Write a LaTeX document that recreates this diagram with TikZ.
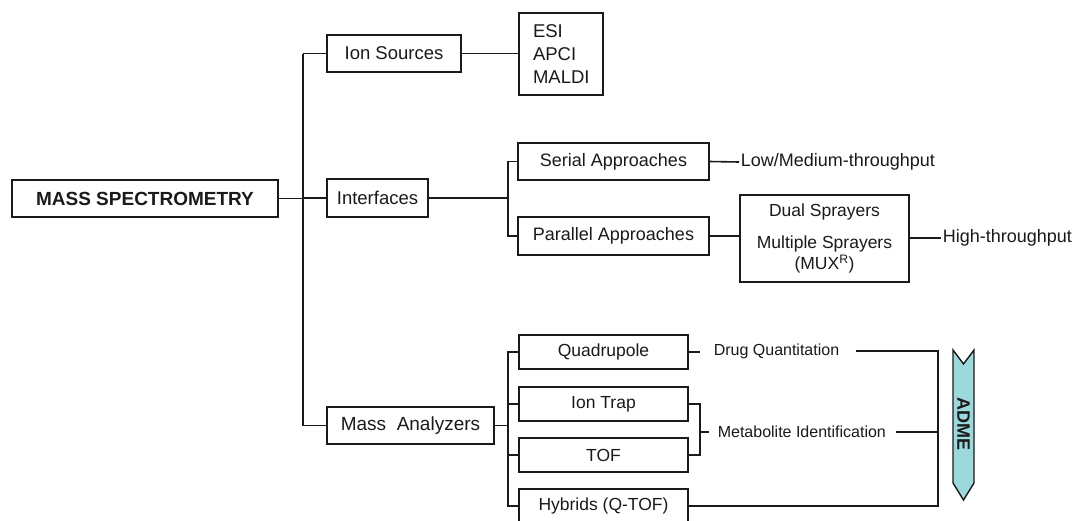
\documentclass[tikz,border=0pt]{standalone}
\usepackage{fontspec}
\setmainfont{Liberation Sans}
\definecolor{admecol}{HTML}{9BD9DC}
\definecolor{ink}{HTML}{1A1A1A}
\newcommand{\fsz}[1]{\fontsize{#1}{#1}\selectfont}
\begin{document}
\begin{tikzpicture}[x=1pt,y=-1pt,
  line width=1.6pt, draw=ink, text=ink,
  box/.style={draw=ink, line width=1.6pt, inner sep=0pt, rectangle},
  lbl/.style={inner sep=0pt, anchor=west}]
\useasboundingbox (0,0) rectangle (1072,520);
\fill[white] (0,0) rectangle (1072,520);

% level 0 and 1
\node[box, minimum width=266, minimum height=37, font=\fsz{19}\bfseries] (ms) at (145,198.5) {MASS SPECTROMETRY};
\node[box, minimum width=134, minimum height=37, font=\fsz{18.5}] (ion) at (394,53.5) {Ion Sources};
\node[box, minimum width=101, minimum height=38, font=\fsz{18.5}] (intf) at (377.5,198) {Interfaces};
\node[box, minimum width=167, minimum height=37, font=\fsz{19}] (ma) at (410.5,425.5) {Mass\ \ Analyzers};

% ion sources
\node[box, minimum width=84, minimum height=82, align=left, text width=56, inner xsep=14pt, font=\fontsize{18.5}{23}\selectfont] (esi) at (561,54) {ESI\\APCI\\MALDI};

% interfaces
\node[box, minimum width=191, minimum height=37, font=\fsz{18}] (serial) at (613.5,161.5) {Serial Approaches};
\node[box, minimum width=191, minimum height=38, font=\fsz{18}] (parallel) at (613.5,236) {Parallel Approaches};
\node[lbl, font=\fsz{18}] (lowmed) at (740,162) {Low/Medium-throughput};
\node[box, minimum width=169, minimum height=87, align=center, font=\fontsize{17.5}{21}\selectfont] (dual) at (824.5,238.5) {Dual Sprayers\\[11pt]Multiple Sprayers\\(MUX\textsuperscript{R})};
\node[lbl, font=\fsz{18}] (high) at (942,238) {High-throughput};

% analyzers
\node[box, minimum width=169, minimum height=34, font=\fsz{17.5}] (quad) at (603.5,352) {Quadrupole};
\node[box, minimum width=169, minimum height=34, font=\fsz{17.5}] (trap) at (603.5,404) {Ion Trap};
\node[box, minimum width=169, minimum height=34, font=\fsz{17.5}] (tof) at (603.5,455) {TOF};
\node[box, minimum width=169, minimum height=34, font=\fsz{17.5}] (hyb) at (603.5,506) {Hybrids (Q-TOF)};
\node[lbl, font=\fsz{16}] (drug) at (713,351) {Drug Quantitation};
\node[lbl, font=\fsz{16}] (metab) at (717,432) {Metabolite Identification};

% coordinates
\coordinate (t1) at (303,53.5);
\coordinate (t2) at (303,425.5);
\coordinate (bI) at (508,0);
\coordinate (bA) at (508,0);
\coordinate (rq) at (700,0);
\coordinate (mid) at (700,432);
\coordinate (R) at (938,0);

% trunk
\draw (t1) -- (t2);
\draw (ms.east) -- (ms.east -| t1);
\draw (t1) -- (ion.west);
\draw (intf.west) -- (intf.west -| t1);
\draw (t2) -- (ma.west);

% ion sources
\draw (ion.east) -- (ion.east -| esi.west);

% interfaces
\draw (intf.east) -- (intf.east -| bI);
\draw (serial.west) -- (serial.west -| bI) -- (parallel.west -| bI) -- (parallel.west);
\draw (serial.east) -- ([xshift=-1pt]lowmed.west);
\draw (parallel.east) -- (parallel.east -| dual.west);
\draw (dual.east |- high.west) -- ([xshift=-1pt]high.west);

% analyzers
\draw (ma.east) -- (ma.east -| bA);
\draw (quad.west) -- (quad.west -| bA) -- (hyb.west -| bA) -- (hyb.west);
\draw (trap.west) -- (trap.west -| bA);
\draw (tof.west) -- (tof.west -| bA);
\draw (quad.east) -- (quad.east -| rq);
\draw (trap.east) -- (trap.east -| rq) -- (tof.east -| rq) -- (tof.east);
\draw (mid) -- ([xshift=-8pt]metab.west);
\draw ([xshift=16pt]drug.east) -- (drug.east -| R) -- (hyb.east -| R) -- (hyb.east);
\draw ([xshift=9pt]metab.east) -- (metab.east -| R);

% ADME arrow
\draw[fill=admecol, line width=1.4pt] (953,350) -- (963.5,364) -- (974,350) -- (974,483) -- (963.5,500) -- (953,483) -- cycle;
\node[rotate=-90, inner sep=0pt, font=\fsz{18}\bfseries] (adme) at (963.5,424) {ADME};
\end{tikzpicture}
\end{document}
